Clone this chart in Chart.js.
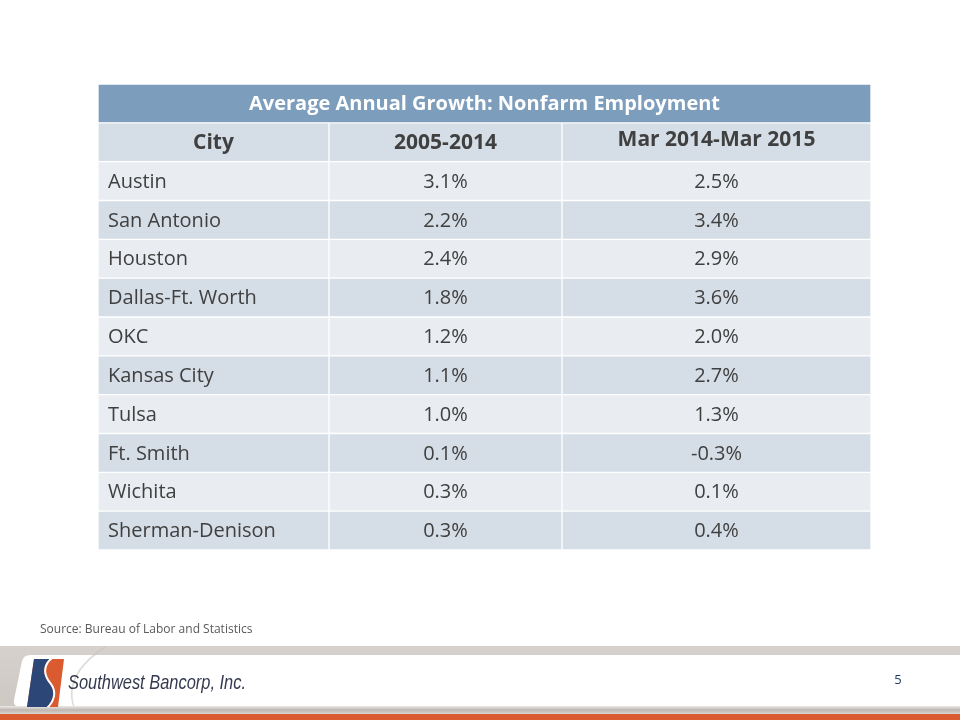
<!DOCTYPE html>
<html>
<head>
<meta charset="utf-8">
<script src="https://cdn.jsdelivr.net/npm/chart.js@4.4.1/dist/chart.umd.min.js"></script>
<style>
  body { margin: 0; background: #fff; }
  #chart-container { display: block; }
</style>
</head>
<body>
<canvas id="chart-container" width="960" height="720"></canvas>
<script>
const tableTitle = "Average Annual Growth: Nonfarm Employment";
const columnHeaders = ["City", "2005-2014", "Mar 2014-Mar 2015"];
const cities = ["Austin", "San Antonio", "Houston", "Dallas-Ft. Worth", "OKC",
    "Kansas City", "Tulsa", "Ft. Smith", "Wichita", "Sherman-Denison"];
const growth2005to2014 = [3.1, 2.2, 2.4, 1.8, 1.2, 1.1, 1.0, 0.1, 0.3, 0.3];
const growthMar14toMar15 = [2.5, 3.4, 2.9, 3.6, 2.0, 2.7, 1.3, -0.3, 0.1, 0.4];
const sourceNote = "Source: Bureau of Labor and Statistics";
const companyName = "Southwest Bancorp, Inc.";
const pageNumber = "5";

// column edges in table units (x scale)
const colEdges = [0, 231, 464, 773];

const rowKeys = ["title", "header", ...cities];
const rowColors = rowKeys.map((k, i) => {
    if (i === 0) return "#7d9dbc";
    if (i === 1) return "#d5dde6";
    return (i % 2 === 0) ? "#e9edf2" : "#d5dde6";
});

const fmt = (v) => v.toFixed(1) + "%";

const cellData = (col) => rowKeys.map((k, i) => {
    if (i === 0) return col === 0 ? [colEdges[0], colEdges[3]] : null;
    return [colEdges[col], colEdges[col + 1]];
});

// footer + logo, drawn before the chart
const slideDecor = {
    id: "slideDecor",
    beforeDraw: (chart) => {
        const c = chart.ctx;
        c.save();
        // gray band
        let g = c.createLinearGradient(0, 646, 0, 714);
        g.addColorStop(0, "#d6d1cd");
        g.addColorStop(1, "#cdc7c2");
        c.fillStyle = g;
        c.fillRect(0, 646, 960, 68);
        // white banner with slanted left end
        c.fillStyle = "#ffffff";
        c.beginPath();
        c.moveTo(30, 655);
        c.lineTo(960, 655);
        c.lineTo(960, 706);
        c.lineTo(18, 706);
        c.quadraticCurveTo(13, 706, 14, 700);
        c.lineTo(22, 661);
        c.quadraticCurveTo(24, 655, 30, 655);
        c.closePath();
        c.fill();
        // faint swoosh
        c.strokeStyle = "rgba(200,194,188,0.6)";
        c.lineWidth = 1.5;
        c.beginPath();
        c.moveTo(80, 720);
        c.quadraticCurveTo(55, 680, 105, 647);
        c.stroke();
        // lower gray strip
        g = c.createLinearGradient(0, 706, 0, 714);
        g.addColorStop(0, "#ece9e6");
        g.addColorStop(0.5, "#bdb6b0");
        g.addColorStop(1, "#d9d4d0");
        c.fillStyle = g;
        c.fillRect(0, 706, 960, 8);
        // orange bar
        c.fillStyle = "#d95b2f";
        c.fillRect(0, 714, 960, 6);

        // logo icon
        c.beginPath();
        c.moveTo(34, 659);
        c.lineTo(64, 659);
        c.lineTo(58, 707);
        c.lineTo(27, 707);
        c.closePath();
        c.save();
        c.clip();
        c.fillStyle = "#d95b2f";
        c.fillRect(26, 658, 40, 50);
        c.fillStyle = "#2c4677";
        c.beginPath();
        c.moveTo(20, 658);
        c.lineTo(51, 658);
        c.bezierCurveTo(41, 666, 43, 676, 50, 684);
        c.bezierCurveTo(56, 692, 53, 702, 46, 708);
        c.lineTo(20, 708);
        c.closePath();
        c.fill();
        c.strokeStyle = "#ffffff";
        c.lineWidth = 2;
        c.beginPath();
        c.moveTo(52, 658);
        c.bezierCurveTo(42, 666, 44, 676, 51, 684);
        c.bezierCurveTo(57, 692, 54, 702, 47, 708);
        c.stroke();
        c.restore();

        // company name
        c.fillStyle = "#363a50";
        c.font = "italic 21px 'Liberation Sans', Arial, sans-serif";
        c.textBaseline = "alphabetic";
        c.textAlign = "left";
        const w = c.measureText(companyName).width;
        c.save();
        c.translate(68, 689);
        c.scale(178 / w, 1);
        c.fillText(companyName, 0, 0);
        c.restore();

        // page number
        c.fillStyle = "#1f3b63";
        c.font = "13px 'Open Sans', sans-serif";
        c.textAlign = "center";
        c.textBaseline = "middle";
        c.fillText(pageNumber, 898, 680);

        // source
        c.fillStyle = "#595959";
        c.font = "12px 'Open Sans', sans-serif";
        c.textAlign = "left";
        c.fillText(sourceNote, 40, 630);
        c.restore();
    },
};

// text for every cell, placed with the chart's scales
const cellText = {
    id: "cellText",
    afterDatasetsDraw: (chart) => {
        const c = chart.ctx;
        const xs = chart.scales.x;
        const ys = chart.scales.y;
        const mid = (a, b) => (xs.getPixelForValue(a) + xs.getPixelForValue(b)) / 2;
        c.save();
        c.textBaseline = "middle";
        // title
        c.fillStyle = "#ffffff";
        c.font = "bold 20px 'Open Sans', sans-serif";
        c.textAlign = "center";
        c.fillText(tableTitle, mid(colEdges[0], colEdges[3]), ys.getPixelForValue(0) + 1);
        // column headers
        c.fillStyle = "#404040";
        c.font = "bold 21px 'Open Sans', sans-serif";
        columnHeaders.forEach((h, j) => {
            c.fillText(h, mid(colEdges[j], colEdges[j + 1]), ys.getPixelForValue(1) + (j === 2 ? -2 : 1));
        });
        // rows
        c.font = "20px 'Open Sans', sans-serif";
        cities.forEach((city, i) => {
            const y = ys.getPixelForValue(i + 2) + 1;
            c.textAlign = "left";
            c.fillText(city, xs.getPixelForValue(colEdges[0]) + 10, y);
            c.textAlign = "center";
            c.fillText(fmt(growth2005to2014[i]), mid(colEdges[1], colEdges[2]), y);
            c.fillText(fmt(growthMar14toMar15[i]), mid(colEdges[2], colEdges[3]), y);
        });
        c.restore();
    },
};

const barStyle = {
    backgroundColor: rowColors,
    borderColor: "#ffffff",
    borderWidth: 1,
    borderSkipped: false,
    barPercentage: 1,
    categoryPercentage: 1,
    grouped: false,
};

new Chart(document.getElementById("chart-container"), {
    type: "bar",
    data: {
        labels: rowKeys,
        datasets: [0, 1, 2].map((col) => ({
            label: columnHeaders[col],
            data: cellData(col),
            ...barStyle,
        })),
    },
    options: {
        indexAxis: "y",
        responsive: false,
        animation: false,
        layout: { padding: { left: 98, right: 89, top: 84, bottom: 170 } },
        scales: {
            x: { type: "linear", min: colEdges[0], max: colEdges[3], display: false },
            y: { display: false },
        },
        plugins: {
            legend: { display: false },
            tooltip: { enabled: false },
        },
    },
    plugins: [slideDecor, cellText],
});
</script>
</body>
</html>
